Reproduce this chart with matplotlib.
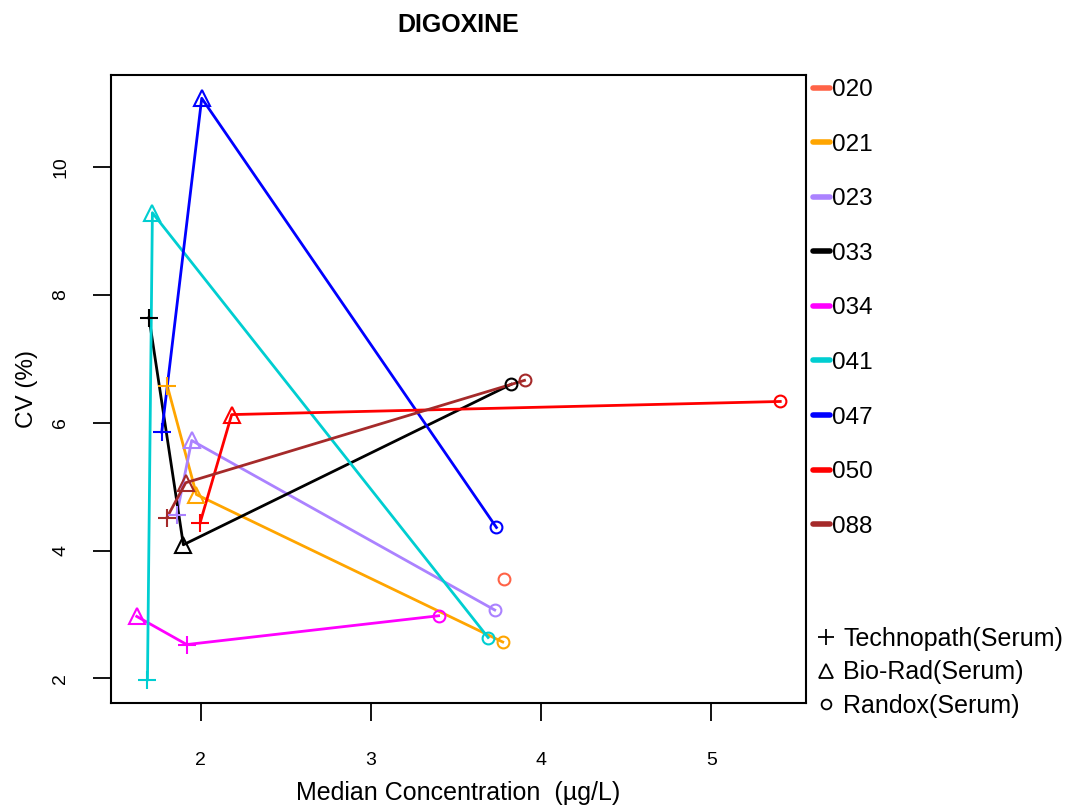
import numpy as np
import matplotlib
matplotlib.use("Agg")
import matplotlib.pyplot as plt
from matplotlib.lines import Line2D

plt.rcParams['font.family'] = ['Liberation Sans', 'DejaVu Sans']

# ---- data ----
labs = ["020", "021", "023", "033", "034", "041", "047", "050", "088"]
colors = ["#FF6347", "#FFA500", "#AB82FF", "#000000", "#FF00FF",
          "#00CED1", "#0000FF", "#FF0000", "#A52A2A"]
tech_x = [np.nan, 1.804, 1.859, 1.696, 1.918, 1.687, 1.771, 1.996, 1.800]
tech_y = [np.nan, 6.57, 4.56, 7.64, 2.53, 1.98, 5.85, 4.43, 4.51]
bio_x = [np.nan, 1.975, 1.947, 1.898, 1.624, 1.716, 2.006, 2.182, 1.912]
bio_y = [np.nan, 4.875, 5.72, 4.09, 2.97, 9.28, 11.07, 6.125, 5.06]
ran_x = [3.78, 3.775, 3.728, 3.826, 3.398, 3.689, 3.738, 5.406, 3.903]
ran_y = [3.55, 2.57, 3.07, 6.60, 2.98, 2.64, 4.36, 6.33, 6.66]
mat_labels = ["Technopath(Serum)", "Bio-Rad(Serum)", "Randox(Serum)"]
xticks = [2, 3, 4, 5]
yticks = [2, 4, 6, 8, 10]

W, H = 1068, 809
fig = plt.figure(figsize=(W / 100, H / 100), dpi=100)
ax = fig.add_axes([111 / W, 106 / H, 695 / W, 628 / H])

lw = 2.0
for i, lab in enumerate(labs):
    c = colors[i]
    xs = np.array([tech_x[i], bio_x[i], ran_x[i]])
    ys = np.array([tech_y[i], bio_y[i], ran_y[i]])
    ok = ~np.isnan(xs)
    xs, ys = xs[ok], ys[ok]
    order = np.argsort(xs)
    ax.plot(xs[order], ys[order], color=c, lw=lw, zorder=2)
    ax.plot(tech_x[i], tech_y[i], marker='+', ms=12.5, mew=1.5, color=c, ls='none', zorder=3)
    ax.plot(bio_x[i], bio_y[i], marker='^', ms=11.5, mew=1.5, mfc='none', mec=c, ls='none', zorder=3)
    ax.plot(ran_x[i], ran_y[i], marker='o', ms=8.5, mew=1.5, mfc='none', mec=c, ls='none', zorder=3)

allx = np.concatenate([tech_x, bio_x, ran_x])
ally = np.concatenate([tech_y, bio_y, ran_y])
xmin, xmax = np.nanmin(allx), np.nanmax(allx)
ymin, ymax = np.nanmin(ally), np.nanmax(ally)
ax.set_xlim(xmin - 0.04 * (xmax - xmin), xmax + 0.04 * (xmax - xmin))
ax.set_ylim(ymin - 0.04 * (ymax - ymin), ymax + 0.04 * (ymax - ymin))

ax.set_xticks(xticks)
ax.set_yticks(yticks)
ax.set_xticklabels([str(v) for v in xticks])
ax.set_yticklabels([str(v) for v in yticks], rotation=90, va='center')
ax.tick_params(axis='both', length=13, width=1.3, labelsize=14, direction='out')
ax.tick_params(axis='x', pad=22)
ax.tick_params(axis='y', pad=17)
for s in ax.spines.values():
    s.set_linewidth(1.5)

ax.set_title("DIGOXINE", fontsize=18, fontweight='bold', pad=31)
ax.set_xlabel("Median Concentration  (\u00b5g/L)", fontsize=18, labelpad=9)
ax.set_ylabel("CV (%)", fontsize=17.5, labelpad=10)

handles1 = [Line2D([0], [0], color=c, lw=4, solid_capstyle='round') for c in colors]
leg1 = ax.legend(handles1, labs, loc='upper left', bbox_to_anchor=(813 / W, 1 - 79 / H),
                 bbox_transform=fig.transFigure, frameon=False, fontsize=17.5,
                 handlelength=0.7, handletextpad=0.1, labelspacing=1.34, borderpad=0,
                 borderaxespad=0)
ax.add_artist(leg1)

handles2 = [Line2D([0], [0], marker='+', ms=12, mew=1.3, color='black', ls='none'),
            Line2D([0], [0], marker='^', ms=10, mew=1.3, mfc='none', mec='black', ls='none'),
            Line2D([0], [0], marker='o', ms=7, mew=1.3, mfc='none', mec='black', ls='none')]
leg2 = ax.legend(handles2, mat_labels, loc='upper left', bbox_to_anchor=(813 / W, 1 - 627 / H),
                 bbox_transform=fig.transFigure, frameon=False, fontsize=18,
                 handlelength=1.0, handletextpad=0.2, labelspacing=0.38, borderpad=0,
                 borderaxespad=0)

fig.savefig("out.png", dpi=100)
